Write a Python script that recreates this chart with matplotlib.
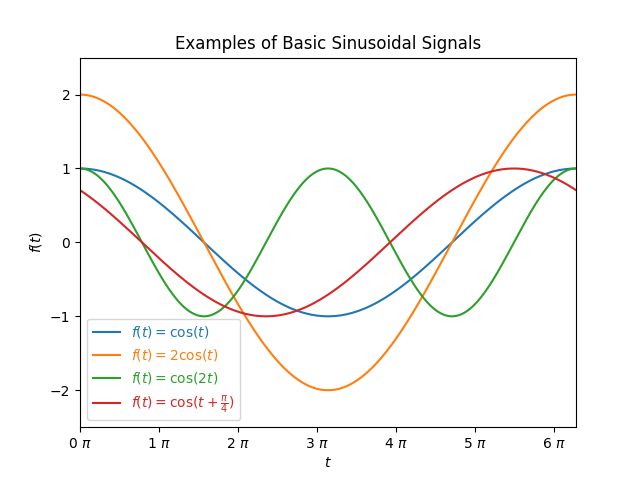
import numpy as np
import matplotlib
matplotlib.use("Agg")
import matplotlib.pyplot as plt

# signal parameters: A*cos(w*t + phi)
labels = [r'$f(t)=\cos(t)$', r'$f(t)=2\cos(t)$',
          r'$f(t)=\cos(2t)$', r'$f(t)=\cos(t+\frac{\pi}{4})$']
amplitudes = [1, 2, 1, 1]
freqs = [1, 1, 2, 1]
phases = [0, 0, 0, np.pi / 4]

tick_pos = [0, 1, 2, 3, 4, 5, 6]
tick_labels = [r'%d $\pi$' % k for k in tick_pos]

t = np.linspace(0, 2 * np.pi, 400)

fig, ax = plt.subplots(figsize=(6.4, 4.8), dpi=100)
for lab, a, w, p in zip(labels, amplitudes, freqs, phases):
    ax.plot(t, a * np.cos(w * t + p), label=lab)

ax.set_xlim(0, 2 * np.pi)
ax.set_ylim(-2.5, 2.5)
ax.set_xticks(tick_pos)
ax.set_xticklabels(tick_labels)
ax.set_yticks([-2, -1, 0, 1, 2])
ax.set_xlabel(r'$t$')
ax.set_ylabel(r'$f(t)$')
ax.set_title('Examples of Basic Sinusoidal Signals')
ax.legend(loc='lower left', labelcolor='linecolor')

fig.savefig('out.png')
